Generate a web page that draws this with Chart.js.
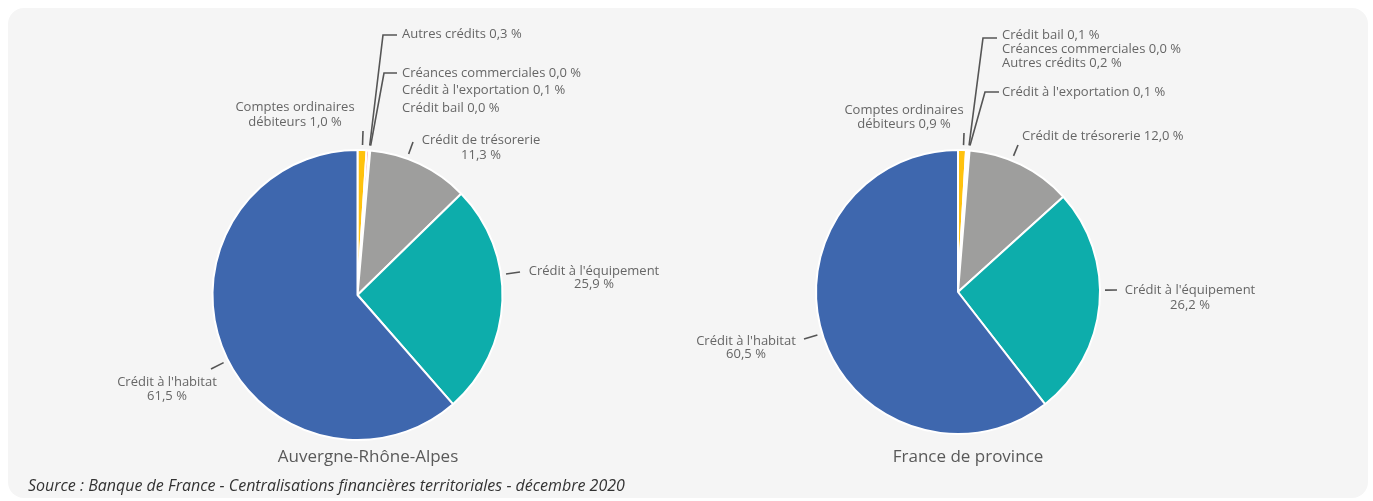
<!DOCTYPE html>
<html lang="fr">
<head>
<meta charset="utf-8">
<title>Répartition des crédits aux entreprises</title>
<script src="https://cdn.jsdelivr.net/npm/chart.js@4.4.1/dist/chart.umd.min.js"></script>
<style>
  html, body { margin: 0; padding: 0; background: #fff; }
  body { position: relative; width: 1373px; height: 501px; overflow: hidden; font-family: "Open Sans", sans-serif; }
  .card { position: absolute; left: 8px; top: 8px; width: 1360px; height: 490px; background: #f5f5f5; border-radius: 16px; }
  canvas { position: absolute; top: 0; }
  #pie-ara { left: 0; }
  #pie-province { left: 686px; }
  .pie-title { position: absolute; top: 444px; width: 300px; margin-left: -150px; text-align: center; font-size: 17px; line-height: 24px; color: #595959; }
  .source { position: absolute; left: 28px; top: 474px; font-size: 16px; line-height: 22px; font-style: italic; color: #333; }
</style>
</head>
<body>
<div class="card"></div>
<canvas id="pie-ara" width="686" height="501"></canvas>
<canvas id="pie-province" width="687" height="501"></canvas>
<div class="pie-title" id="title-ara" style="left:368px;"></div>
<div class="pie-title" id="title-province" style="left:968px;"></div>
<div class="source">Source : Banque de France - Centralisations financières territoriales - décembre 2020</div>

<script>
'use strict';

/* Catégories de crédit, dans l'ordre des secteurs (sens horaire depuis midi) */
var CATEGORIES = [
  'Comptes ordinaires débiteurs',
  'Crédit bail',
  'Créances commerciales',
  'Autres crédits',
  "Crédit à l'exportation",
  'Crédit de trésorerie',
  "Crédit à l'équipement",
  "Crédit à l'habitat"
];

/* Parts en % */
var VALUES_ARA = [1.0, 0.0, 0.0, 0.3, 0.1, 11.3, 25.9, 61.5];
var VALUES_PROVINCE = [0.9, 0.1, 0.0, 0.2, 0.1, 12.0, 26.2, 60.5];

var TITLES = ['Auvergne-Rhône-Alpes', 'France de province'];

var COLORS = ['#ffc20e', '#dcdcdc', '#c8c8c8', '#f4a7b9', '#fbe3e9', '#9e9e9d', '#0dadab', '#3e67ae'];

/* Étiquettes : position relative au centre du camembert,
   tick = bout du trait de rappel, tail = retour horizontal */
var LABELS_ARA = [
  { slices: [0], wrap: 2, align: 'center', text: [-62.5, -188], lh: 15, tick: [5.5, -164] },
  { slices: [3], align: 'left', text: [44.5, -261], lh: 17.5, tick: [25.5, -260], tail: 14 },
  { slices: [2, 4, 1], align: 'left', text: [44.5, -222], lh: 17.5, tick: [26.5, -222], tail: 13 },
  { slices: [5], wrap: 3, align: 'center', text: [123.5, -155], lh: 15, tick: [55.5, -153] },
  { slices: [6], wrap: 3, align: 'center', text: [236.5, -24], lh: 13.5, tick: [162.5, -23] },
  { slices: [7], wrap: 3, align: 'center', text: [-190.5, 87], lh: 14, tick: [-146.5, 74] }
];

var LABELS_PROVINCE = [
  { slices: [0], wrap: 2, align: 'center', text: [-54, -182], lh: 14.5, tick: [6, -159] },
  { slices: [1, 2, 3], align: 'left', text: [44, -257], lh: 14, tick: [25, -254], tail: 14 },
  { slices: [4], align: 'left', text: [44, -200], lh: 14, tick: [27, -200], tail: 14 },
  { slices: [5], align: 'left', text: [64, -156], lh: 14, tick: [60, -147] },
  { slices: [6], wrap: 3, align: 'center', text: [232, -2], lh: 15, tick: [159, -2] },
  { slices: [7], wrap: 3, align: 'center', text: [-212, 49], lh: 13.5, tick: [-154, 47] }
];

function fmtPct(v) {
  return v.toFixed(1).replace('.', ',') + ' %';
}

/* lignes de texte d'une étiquette */
function labelLines(item, names, values) {
  var lines = [];
  item.slices.forEach(function (i) {
    if (item.wrap) {
      var words = names[i].split(' ');
      lines.push(words.slice(0, item.wrap).join(' '));
      lines.push(words.slice(item.wrap).concat(fmtPct(values[i])).join(' '));
    } else {
      lines.push(names[i] + ' ' + fmtPct(values[i]));
    }
  });
  return lines;
}

var pieLabels = {
  id: 'pieLabels',
  afterDatasetsDraw: function (chart, args, opts) {
    var ctx = chart.ctx;
    var meta = chart.getDatasetMeta(0);
    var names = chart.data.labels;
    var values = chart.data.datasets[0].data;
    var arc0 = meta.data[0];
    var cx = arc0.x, cy = arc0.y, r = arc0.outerRadius;

    ctx.save();
    ctx.font = '13px "Open Sans"';
    ctx.textBaseline = 'middle';
    ctx.fillStyle = '#666';
    ctx.strokeStyle = '#555';
    ctx.lineWidth = 1.6;

    opts.items.forEach(function (item) {
      var start = Infinity, end = -Infinity;
      item.slices.forEach(function (i) {
        start = Math.min(start, meta.data[i].startAngle);
        end = Math.max(end, meta.data[i].endAngle);
      });

      /* départ du trait sur le bord du secteur, vers le bout du trait */
      var ang = Math.atan2(item.tick[1], item.tick[0]);
      if (ang < -Math.PI / 2) ang += Math.PI * 2;
      ang = Math.min(Math.max(ang, start), end);
      var r0 = r + 5;
      var tx = cx + item.tick[0], ty = cy + item.tick[1];

      ctx.beginPath();
      ctx.moveTo(cx + Math.cos(ang) * r0, cy + Math.sin(ang) * r0);
      ctx.lineTo(tx, ty);
      if (item.tail) ctx.lineTo(tx + item.tail, ty);
      ctx.stroke();

      ctx.textAlign = item.align;
      labelLines(item, names, values).forEach(function (line, k) {
        ctx.fillText(line, cx + item.text[0], cy + item.text[1] + k * item.lh);
      });
    });
    ctx.restore();
  }
};

function drawPie(canvasId, values, labels, radius, padding) {
  return new Chart(document.getElementById(canvasId), {
    type: 'pie',
    data: {
      labels: CATEGORIES,
      datasets: [{
        data: values,
        backgroundColor: COLORS,
        borderColor: '#ffffff',
        borderWidth: 2
      }]
    },
    options: {
      responsive: false,
      animation: false,
      devicePixelRatio: 1,
      radius: radius,
      layout: { padding: padding },
      plugins: {
        legend: { display: false },
        tooltip: { enabled: false },
        pieLabels: { items: labels }
      }
    },
    plugins: [pieLabels]
  });
}

document.getElementById('title-ara').textContent = TITLES[0];
document.getElementById('title-province').textContent = TITLES[1];

drawPie('pie-ara', VALUES_ARA, LABELS_ARA, 145, { left: 29, top: 89, right: 0, bottom: 0 });
drawPie('pie-province', VALUES_PROVINCE, LABELS_PROVINCE, 142, { left: 0, top: 83, right: 143, bottom: 0 });
</script>
</body>
</html>
